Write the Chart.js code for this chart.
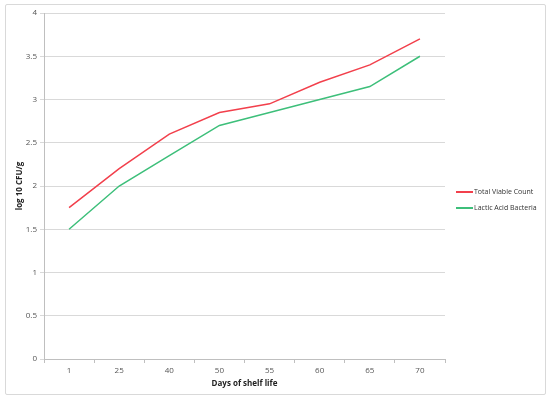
<!DOCTYPE html>
<html>
<head>
<meta charset="utf-8">
<script src="https://cdn.jsdelivr.net/npm/chart.js@4.4.0/dist/chart.umd.min.js"></script>
<style>
  html, body { margin:0; padding:0; background:#fff; }
  #wrap { position:relative; width:550px; height:403px; }
  #frame { position:absolute; left:5px; top:4px; width:539px; height:389px; border:1px solid #d9d9d9; border-radius:2px; }
  canvas { position:absolute; left:0; top:0; }
</style>
</head>
<body>
<div id="wrap">
  <div id="frame"></div>
  <canvas id="grafico" width="550" height="403"></canvas>
</div>
<script>
// ------------------- DATA -------------------
const dias = ['1', '25', '40', '50', '55', '60', '65', '70'];
const totalViable = [1.75, 2.2, 2.6, 2.85, 2.95, 3.2, 3.4, 3.7];
const lacticAcid = [1.5, 2.0, 2.35, 2.7, 2.85, 3.0, 3.15, 3.5];
const nomesSeries = ['Total Viable Count', 'Lactic Acid Bacteria'];
const coresSeries = ['#f2404c', '#3dbf7a'];

const fonte = "'Open Sans', sans-serif";

// legenda desenhada à direita
const legendaPlugin = {
  id: 'legendaDireita',
  afterDraw(chart){
    const ctx = chart.ctx;
    ctx.save();
    ctx.font = '7px ' + fonte;
    ctx.textBaseline = 'middle';
    ctx.fillStyle = '#333';
    chart.data.datasets.forEach((ds, i)=>{
      const y = 192 + i*16;
      ctx.strokeStyle = ds.borderColor;
      ctx.lineWidth = 2;
      ctx.beginPath();
      ctx.moveTo(456, y);
      ctx.lineTo(473, y);
      ctx.stroke();
      ctx.fillText(ds.label, 474, y);
    });
    ctx.restore();
  }
};

const ctx = document.getElementById('grafico').getContext('2d');
new Chart(ctx, {
  type: 'line',
  data: {
    labels: dias,
    datasets: [
      { label: nomesSeries[0], data: totalViable, borderColor: coresSeries[0], borderWidth: 1.5, pointRadius: 0, tension: 0, fill: false },
      { label: nomesSeries[1], data: lacticAcid, borderColor: coresSeries[1], borderWidth: 1.5, pointRadius: 0, tension: 0, fill: false }
    ]
  },
  options: {
    responsive: false,
    animation: false,
    layout: { padding: { left: 15, right: 105, top: 13, bottom: 14 } },
    plugins: {
      legend: { display: false },
      tooltip: { enabled: false }
    },
    scales: {
      x: {
        offset: true,
        grid: { display: true, drawOnChartArea: false, drawTicks: true, tickLength: 4, offset: true, color: '#bfbfbf' },
        border: { color: '#bfbfbf' },
        ticks: { color: '#555', font: { family: fonte, size: 8 }, padding: 3, maxRotation: 0 },
        title: { display: true, text: 'Days of shelf life', color: '#222', font: { family: fonte, size: 8, weight: 'bold' }, padding: { top: 2, bottom: 0 } },
        afterFit(scale){ scale.height = 30; }
      },
      y: {
        min: 0, max: 4,
        grid: { color: '#d9d9d9', tickLength: 4 },
        border: { color: '#bfbfbf' },
        ticks: { stepSize: 0.5, color: '#555', font: { family: fonte, size: 8 }, padding: 3,
                 callback: v => String(Number(v)) },
        title: { display: true, text: 'log 10 CFU/g', color: '#222', font: { family: fonte, size: 8, weight: 'bold' }, padding: { top: 0, bottom: 4 } },
        afterFit(scale){ scale.width = 29; }
      }
    }
  },
  plugins: [legendaPlugin]
});
</script>
</body>
</html>
